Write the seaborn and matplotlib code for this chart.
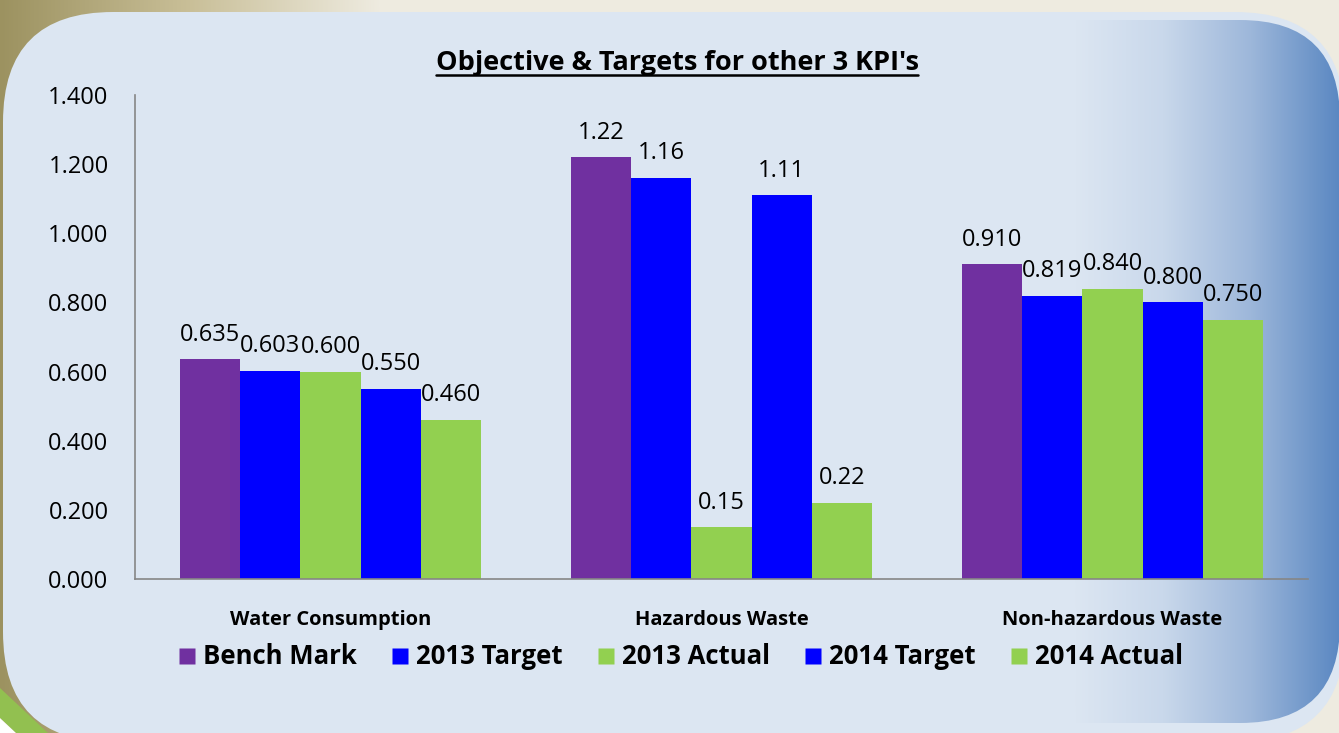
import numpy as np
import pandas as pd
import matplotlib
matplotlib.use("Agg")
import matplotlib.pyplot as plt
import seaborn as sns
from matplotlib.patches import FancyBboxPatch, Polygon
from matplotlib.lines import Line2D
from matplotlib.colors import LinearSegmentedColormap

categories = ["Water Consumption", "Hazardous Waste", "Non-hazardous Waste"]
series = ["Bench Mark", "2013 Target", "2013 Actual", "2014 Target", "2014 Actual"]
bench_mark = [0.635, 1.22, 0.910]
target_2013 = [0.603, 1.16, 0.819]
actual_2013 = [0.600, 0.15, 0.840]
target_2014 = [0.550, 1.11, 0.800]
actual_2014 = [0.460, 0.22, 0.750]
label_decimals = [3, 2, 3]
yticks = [0.0, 0.2, 0.4, 0.6, 0.8, 1.0, 1.2, 1.4]

colors = {"Bench Mark": "#7030A0", "2013 Target": "#0000FF", "2013 Actual": "#92D050",
          "2014 Target": "#0000FF", "2014 Actual": "#92D050"}

rows = []
for s, vals in zip(series, [bench_mark, target_2013, actual_2013, target_2014, actual_2014]):
    for c, v in zip(categories, vals):
        rows.append({"category": c, "series": s, "value": v})
df = pd.DataFrame(rows)

sns.set_style("white")
plt.rcParams["font.family"] = ["Open Sans", "DejaVu Sans"]
plt.rcParams["text.color"] = "black"
plt.rcParams["xtick.labelcolor"] = "black"
plt.rcParams["ytick.labelcolor"] = "black"

W, H = 1339, 733
fig = plt.figure(figsize=(W / 100, H / 100), dpi=100)
fig.patch.set_facecolor("#EEEBE0")

# decorative background (pixel coordinates)
bg = fig.add_axes([0, 0, 1, 1], zorder=-10)
bg.set_xlim(0, W)
bg.set_ylim(H, 0)
bg.axis("off")
olive = LinearSegmentedColormap.from_list("olive", ["#9C9260", "#C9BF98", "#EEEBE0"])
grad = np.linspace(0, 1, 256)[None, :]
bg.imshow(grad, cmap=olive, extent=(0, 380, H, 0), aspect="auto", zorder=0)
bg.add_patch(Polygon([(0, 688), (48, 733), (16, 733), (0, 718)], closed=True,
                     fc="#92C050", ec="none", zorder=0.5))
bg.add_patch(Polygon([(0, 718), (16, 733), (0, 733)], closed=True,
                     fc="white", ec="none", zorder=0.5))
panel = FancyBboxPatch((113, 122), 1235 - 113, 632 - 122,
                       boxstyle="round,pad=110", fc="#DCE6F2", ec="none", zorder=1)
bg.add_patch(panel)
blue = LinearSegmentedColormap.from_list("blu", ["#DCE6F2", "#C9D8EB", "#9DB7DA", "#5B88C2"])
img = bg.imshow(grad, cmap=blue, extent=(1075, W, H, 0), aspect="auto", zorder=2)
clip = FancyBboxPatch((900, 120), 1240 - 900, 623 - 120,
                      boxstyle="round,pad=100", fc="none", ec="none", transform=bg.transData)
bg.add_patch(clip)
img.set_clip_path(clip)

ax = fig.add_axes([135 / W, 1 - 579 / H, (1308 - 135) / W, (579 - 95) / H])
ax.set_facecolor("none")
sns.barplot(data=df, x="category", y="value", hue="series", order=categories,
            hue_order=series, palette=colors, width=0.77, saturation=1,
            linewidth=0, legend=False, ax=ax)

for i, s in enumerate(series):
    cont = ax.containers[i]
    for j, bar in enumerate(cont):
        v = bar.get_height()
        ax.annotate(f"{v:.{label_decimals[j]}f}", (bar.get_x() + bar.get_width() / 2, v),
                    xytext=(0, 9), textcoords="offset points", ha="center", va="bottom",
                    fontsize=17, color="black")

ax.set_xlim(-0.5, 2.5)
ax.set_ylim(0, 1.4)
ax.set_yticks(yticks)
ax.set_yticklabels([f"{t:.3f}" for t in yticks], fontsize=17)
ax.set_xlabel("")
ax.set_ylabel("")
ax.set_xticks(range(len(categories)))
ax.set_xticklabels(categories, fontsize=14.5, fontweight="bold")
ax.set_xticks([-0.5, 0.5, 1.5, 2.5], minor=True)
ax.tick_params(axis="x", which="major", length=0, pad=22.5)
ax.tick_params(axis="x", which="minor", length=7, color="#868686", width=1.2, direction="out")
ax.tick_params(axis="y", length=7, color="#868686", width=1.2, direction="out", pad=12)
for sp in ["top", "right"]:
    ax.spines[sp].set_visible(False)
for sp in ["left", "bottom"]:
    ax.spines[sp].set_color("#868686")
    ax.spines[sp].set_linewidth(1.2)

title = fig.text(677 / W, 1 - 63 / H, "Objective & Targets for other 3 KPI's",
                 ha="center", va="center", fontsize=19.5, fontweight="bold")
fig.canvas.draw()
bb = title.get_window_extent()
uy = bb.y0 + 1
fig.add_artist(Line2D([bb.x0 / W, bb.x1 / W], [uy / H, uy / H], color="black", lw=1.8))

handles = [Line2D([], [], marker="s", linestyle="none", markersize=11.5,
                  markerfacecolor=colors[s], markeredgecolor="none") for s in series]
fig.legend(handles, series, loc="center", bbox_to_anchor=(681 / W, 1 - 657 / H), ncol=5,
           frameon=False, prop={"weight": "bold", "size": 18.5}, handlelength=0.65,
           handletextpad=0.3, columnspacing=1.35)

fig.savefig("out.png", dpi=100, facecolor=fig.get_facecolor())
